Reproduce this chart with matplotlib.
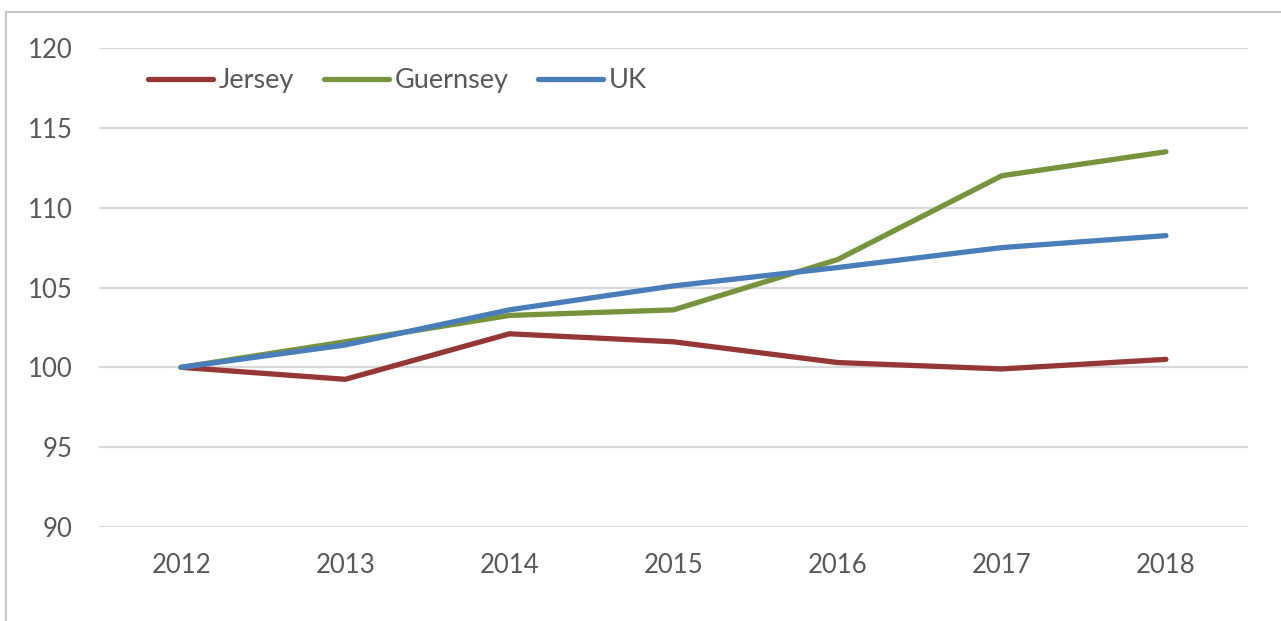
import matplotlib.pyplot as plt
from matplotlib.lines import Line2D

# Index values (2012 = 100)
YEARS = ["2012", "2013", "2014", "2015", "2016", "2017", "2018"]
JERSEY = [100.0, 99.25, 102.1, 101.6, 100.3, 99.9, 100.5]
GUERNSEY = [100.0, 101.6, 103.25, 103.6, 106.75, 112.0, 113.5]
UK = [100.0, 101.4, 103.6, 105.1, 106.25, 107.5, 108.25]

SERIES = [
    ("Jersey", JERSEY, "#953735"),
    ("Guernsey", GUERNSEY, "#77933C"),
    ("UK", UK, "#4A7EBB"),
]

plt.rcParams["font.family"] = ["Lato", "DejaVu Sans"]
TEXT = "#595959"
FS = 18.5


def main() -> None:
    fig = plt.figure(figsize=(12.81, 6.21), dpi=100)
    ax = fig.add_axes([99 / 1281, 94 / 621, 1149 / 1281, 479 / 621])

    x = list(range(len(YEARS)))
    for name, vals, col in SERIES:
        ax.plot(x, vals, color=col, lw=3.8, label=name,
                solid_capstyle="round", solid_joinstyle="round", zorder=3)

    ax.set_xlim(-0.5, len(YEARS) - 0.5)
    ax.set_ylim(90, 120)
    ax.set_yticks(range(90, 121, 5))
    ax.set_xticks(x)
    ax.set_xticklabels(YEARS)
    ax.grid(axis="y", color="#d9d9d9", lw=1.6)
    ax.set_axisbelow(True)
    for s in ax.spines.values():
        s.set_visible(False)
    ax.tick_params(length=0, labelsize=FS, colors=TEXT)
    ax.tick_params(axis="y", pad=19)
    ax.tick_params(axis="x", pad=19)

    ax.legend(loc="center left", bbox_to_anchor=(0.043, 0.932), ncol=3,
              frameon=False, fontsize=19.5, labelcolor=TEXT,
              handlelength=2.4, handletextpad=0.2, columnspacing=1.1,
              borderaxespad=0, borderpad=0)

    # chart-area border (left and top edges visible)
    fig.add_artist(Line2D([6 / 1281, 6 / 1281], [0, 1 - 12 / 621],
                          transform=fig.transFigure, color="#c8c8c8", lw=1.5))
    fig.add_artist(Line2D([6 / 1281, 1], [1 - 12 / 621, 1 - 12 / 621],
                          transform=fig.transFigure, color="#c8c8c8", lw=1.5))

    fig.savefig("out.png", dpi=100)


if __name__ == "__main__":
    main()
